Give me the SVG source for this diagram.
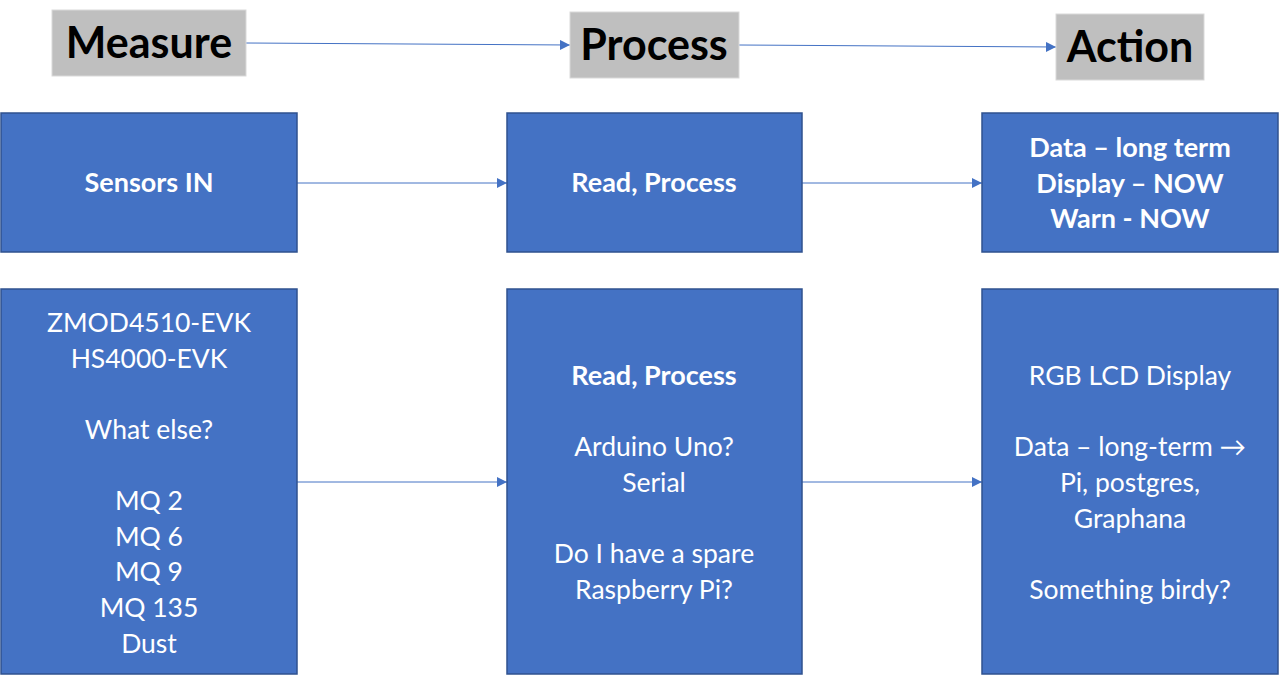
<svg xmlns="http://www.w3.org/2000/svg" width="1279" height="678" viewBox="0 0 1279 678">
<defs>
<style>
.hdr{fill:#BFBFBF;stroke:#D9D9D9;stroke-width:1}
.hdrt{font-family:Lato,"Open Sans","Liberation Sans",sans-serif;font-weight:bold;font-size:43px;fill:#000;text-anchor:middle}
.box{fill:#4472C4;stroke:#2F528F;stroke-width:1.5}
.bt{font-family:Lato,"Open Sans","Liberation Sans",sans-serif;font-weight:bold;font-size:27px;fill:#fff;text-anchor:middle}
.t{font-family:Lato,"Open Sans","Liberation Sans",sans-serif;font-size:26.5px;fill:#fff;text-anchor:middle}
.conn{stroke:#4472C4;stroke-width:1;fill:none;marker-end:url(#ah)}
</style>
<marker id="ah" viewBox="0 0 10 10" refX="10" refY="5" markerWidth="10" markerHeight="10" markerUnits="userSpaceOnUse" orient="auto">
<path d="M0,0 L10,5 L0,10 z" fill="#4472C4"/>
</marker>
</defs>
<rect width="1279" height="678" fill="#fff"/>
<g id="connectors">
<line class="conn" x1="246" y1="43" x2="570" y2="45"/>
<line class="conn" x1="739" y1="45" x2="1056" y2="47"/>
<line class="conn" x1="297" y1="183" x2="507" y2="183"/>
<line class="conn" x1="802" y1="183" x2="982" y2="183"/>
<line class="conn" x1="297" y1="482" x2="507" y2="482"/>
<line class="conn" x1="802" y1="482" x2="982" y2="482"/>
</g>
<g id="measure"><rect class="hdr" x="52" y="10" width="194" height="66"/><text class="hdrt" x="149" y="58">Measure</text></g>
<g id="process"><rect class="hdr" x="570" y="12" width="169" height="66"/><text class="hdrt" x="654" y="60">Process</text></g>
<g id="action"><rect class="hdr" x="1056" y="14" width="148" height="66"/><text class="hdrt" x="1130" y="62">Action</text></g>
<g id="sensors-in"><rect class="box" x="1" y="113" width="296" height="139"/><text class="bt" x="149" y="192">Sensors IN</text></g>
<g id="read-process"><rect class="box" x="507" y="113" width="295" height="139"/><text class="bt" x="654" y="192">Read, Process</text></g>
<g id="outputs"><rect class="box" x="982" y="113" width="296" height="139"/>
<text class="bt" x="1130" y="157">Data – long term</text>
<text class="bt" x="1130" y="193">Display – NOW</text>
<text class="bt" x="1130" y="228">Warn - NOW</text></g>
<g id="sensor-list"><rect class="box" x="1" y="289" width="296" height="385"/>
<text class="t" x="149" y="332">ZMOD4510-EVK</text>
<text class="t" x="149" y="368">HS4000-EVK</text>
<text class="t" x="149" y="439">What else?</text>
<text class="t" x="149" y="510">MQ 2</text>
<text class="t" x="149" y="546">MQ 6</text>
<text class="t" x="149" y="581">MQ 9</text>
<text class="t" x="149" y="617">MQ 135</text>
<text class="t" x="149" y="653">Dust</text></g>
<g id="processor"><rect class="box" x="507" y="289" width="295" height="385"/>
<text class="bt" x="654" y="385">Read, Process</text>
<text class="t" x="654" y="456">Arduino Uno?</text>
<text class="t" x="654" y="492">Serial</text>
<text class="t" x="654" y="563">Do I have a spare</text>
<text class="t" x="654" y="599">Raspberry Pi?</text></g>
<g id="action-list"><rect class="box" x="982" y="289" width="296" height="385"/>
<text class="t" x="1130" y="385">RGB LCD Display</text>
<text class="t" x="1130" y="456">Data – long-term →</text>
<text class="t" x="1130" y="492">Pi, postgres,</text>
<text class="t" x="1130" y="528">Graphana</text>
<text class="t" x="1130" y="599">Something birdy?</text></g>
</svg>
